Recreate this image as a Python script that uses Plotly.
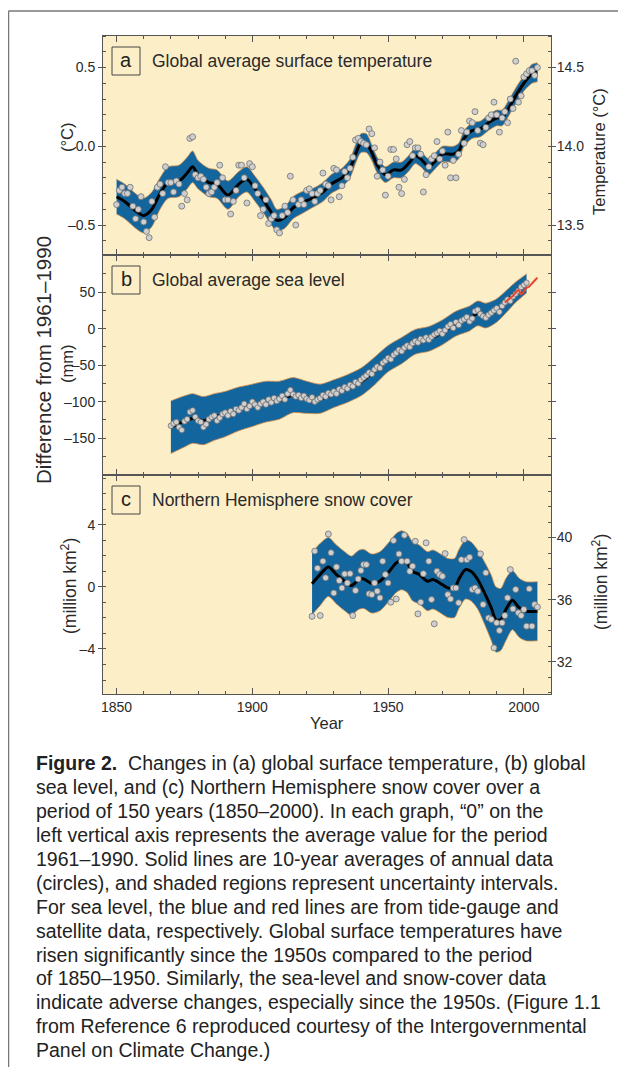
import plotly.graph_objects as go

# ---------------- data ----------------
temp_years = list(range(1850, 2006))
temp_annual = [
    -0.37, -0.28, -0.26, -0.30, -0.30, -0.26, -0.38, -0.46, -0.40, -0.32,
    -0.48, -0.54, -0.58, -0.35, -0.45, -0.26, -0.24, -0.30, -0.13, -0.23,
    -0.23, -0.29, -0.22, -0.24, -0.38, -0.30, -0.34, 0.05, 0.06, -0.18,
    -0.20, -0.19, -0.21, -0.26, -0.30, -0.29, -0.26, -0.23, -0.12, -0.20,
    -0.34, -0.34, -0.43, -0.35, -0.28, -0.12, -0.12, -0.20, -0.36, -0.11,
    -0.13, -0.25, -0.30, -0.44, -0.40, -0.34, -0.49, -0.46, -0.44, -0.53,
    -0.55, -0.44, -0.38, -0.42, -0.19, -0.34, -0.50, -0.37, -0.34, -0.37,
    -0.28, -0.27, -0.30, -0.35, -0.30, -0.28, -0.17, -0.24, -0.25, -0.34,
    -0.14, -0.15, -0.32, -0.25, -0.16, -0.20, -0.14, -0.07, 0.04, 0.05,
    0.03, 0.02, 0.01, 0.11, 0.08, -0.01, -0.19, -0.10, -0.15, -0.31,
    -0.19, -0.02, -0.02, -0.08, -0.26, -0.30, -0.21, 0.01, 0.03, -0.06,
    -0.01, -0.01, -0.05, -0.29, -0.18, -0.13, -0.08, -0.06, 0.03, -0.08,
    -0.03, -0.12, 0.09, -0.20, -0.09, -0.20, -0.05, 0.10, 0.02, 0.09,
    0.16, 0.15, 0.22, 0.10, 0.02, 0.01, 0.12, 0.18, 0.20, 0.28,
    0.20, 0.09, 0.18, 0.22, 0.15, 0.30, 0.24, 0.54, 0.28, 0.32,
    0.44, 0.46, 0.48, 0.48, 0.45, 0.50,
]
temp_smooth_years = [1850, 1853, 1857, 1860, 1863, 1866, 1869, 1873, 1876, 1878,
                     1880, 1884, 1887, 1891, 1895, 1898, 1901, 1904, 1907, 1909,
                     1912, 1915, 1918, 1922, 1926, 1929, 1933, 1936, 1938, 1940,
                     1942, 1944, 1946, 1949, 1952, 1955, 1958, 1960, 1962, 1965,
                     1967, 1970, 1974, 1976, 1978, 1981, 1984, 1987, 1990, 1992,
                     1994, 1997, 2000, 2003, 2005]
temp_smooth = [-0.32, -0.35, -0.41, -0.44, -0.40, -0.30, -0.23, -0.22, -0.17, -0.13,
               -0.18, -0.23, -0.24, -0.31, -0.24, -0.21, -0.27, -0.34, -0.42, -0.47,
               -0.45, -0.39, -0.36, -0.33, -0.29, -0.24, -0.20, -0.14, -0.05, 0.02,
               0.02, -0.04, -0.12, -0.18, -0.15, -0.15, -0.10, -0.06, -0.08, -0.13,
               -0.10, -0.05, -0.05, -0.03, 0.05, 0.10, 0.11, 0.15, 0.18, 0.18,
               0.23, 0.32, 0.40, 0.46, 0.47]
temp_halfwidth = [0.11, 0.11, 0.11, 0.11, 0.11, 0.10, 0.10, 0.10, 0.10, 0.10,
                  0.09, 0.09, 0.09, 0.09, 0.08, 0.08, 0.08, 0.08, 0.08, 0.07,
                  0.07, 0.07, 0.07, 0.06, 0.06, 0.06, 0.06, 0.06, 0.06, 0.06,
                  0.06, 0.05, 0.05, 0.05, 0.05, 0.05, 0.05, 0.05, 0.05, 0.05,
                  0.05, 0.05, 0.05, 0.05, 0.05, 0.05, 0.05, 0.05, 0.05, 0.05,
                  0.05, 0.05, 0.05, 0.06, 0.06]

sea_years = list(range(1870, 2002))
sea_annual = [
    -133, -130, -128, -135, -139, -127, -124, -114, -112, -121,
    -126, -128, -135, -131, -124, -121, -119, -126, -122, -117,
    -115, -119, -113, -117, -110, -112, -108, -103, -110, -106,
    -100, -104, -108, -103, -100, -104, -97, -101, -95, -99,
    -96, -92, -97, -89, -84, -90, -93, -91, -95, -92,
    -96, -98, -94, -100, -97, -95, -91, -93, -88, -90,
    -86, -89, -83, -85, -80, -82, -77, -79, -73, -75,
    -70, -67, -64, -60, -62, -56, -52, -54, -47, -44,
    -40, -42, -36, -33, -29, -31, -26, -23, -25, -20,
    -17, -19, -14, -16, -12, -15, -11, -8, -6, -3,
    -7, -2, 3, 6, 1, 9, 5, 11, 13, 16,
    10, 14, 24, 26, 20, 17, 15, 19, 22, 25,
    28, 23, 31, 36, 40, 38, 44, 48, 52, 57,
    60, 63,
]
sea_smooth_years = [1870, 1875, 1878, 1882, 1886, 1890, 1895, 1900, 1905, 1910,
                    1915, 1920, 1925, 1930, 1935, 1940, 1945, 1950, 1955, 1960,
                    1965, 1970, 1975, 1980, 1983, 1986, 1990, 1994, 1997, 2001]
sea_smooth = [-135, -127, -123, -126, -121, -117, -110, -105, -100, -98,
              -91, -94, -96, -89, -82, -73, -58, -41, -30, -18,
              -14, -5, 7, 14, 21, 18, 25, 39, 50, 62]
sea_halfwidth = [36, 35, 34, 33, 32, 31, 30, 29, 28, 26,
                 24, 22, 20, 19, 19, 19, 19, 18, 18, 17,
                 17, 17, 17, 17, 17, 17, 16, 15, 14, 13]
sat_years = [1993, 1994, 1995, 1996, 1997, 1998, 1999, 2000, 2001, 2002, 2003, 2004, 2005]
sat_level = [36, 39, 42, 45, 50, 53, 47, 51, 56, 58, 62, 66, 70]

snow_years = list(range(1922, 2006))
snow_annual = [
    -1.9, 2.3, 1.2, -1.85, 1.65, 0.58, 3.4, 2.2, -0.4, 1.28,
    0.4, -0.07, 0.83, 0.25, 0.85, -1.85, -0.24, 0.51, 1.05, 1.43,
    1.43, -0.45, -0.5, 0.25, -0.28, -0.71, 1.65, 0.79, 0.25, -0.99,
    2.98, -0.78, 2.12, 1.65, 3.32, 1.65, 1.0, 1.33, 2.93, -1.74,
    -0.99, 0.85, 2.83, 1.65, -0.82, -2.38, 1.0, 0.79, 0.68, 2.14,
    -0.5, -0.78, -0.07, -0.07, -1.03, 1.75, 3.04, 1.75, 1.9, -0.17,
    -0.07, -0.28, 2.12, -1.14, 0.9, -2.0, -2.1, -3.93, -2.32, -2.81,
    -2.32, -1.85, -0.71, 1.11, -1.42, -0.17, -1.67, -1.85, -1.46, -2.53,
    -0.13, -2.53, -1.14, -1.3,
]
snow_smooth_years = [1922, 1925, 1928, 1931, 1934, 1936.5, 1939, 1941, 1944, 1947,
                     1950, 1953, 1955, 1957, 1959, 1961.5, 1964.5, 1966.5, 1969, 1972,
                     1974.5, 1976, 1978.5, 1980.5, 1983, 1985.5, 1988, 1989.7, 1991.5, 1993.4,
                     1995.8, 1998.3, 2000.7, 2005]
snow_smooth = [0.2, 0.8, 1.28, 0.79, 0.36, 0.08, 0.43, 0.51, 0.21, 0.36,
               0.90, 1.54, 1.71, 1.54, 1.0, 0.79, 0.36, 0.47, 0.25, -0.07,
               -0.07, 0.47, 1.11, 1.0, 0.47, -0.39, -1.35, -2.1, -2.1, -1.46,
               -0.86, -1.35, -1.57, -1.57]
snow_halfwidth = [2.0, 2.0, 1.9, 1.9, 1.9, 1.9, 1.9, 1.9, 1.9, 1.9,
                  1.9, 1.9, 1.9, 1.9, 1.9, 1.9, 1.9, 1.9, 1.9, 1.9,
                  1.9, 1.9, 1.9, 1.9, 1.9, 2.0, 2.1, 2.1, 2.0, 2.0,
                  1.9, 1.9, 1.9, 1.9]

x_tickvals = [1850, 1900, 1950, 2000]
temp_tickvals = [-0.5, 0.0, 0.5]
temp_ticktext = ["–0.5", "0.0", "0.5"]
temp_abs_tickvals = [13.5, 14.0, 14.5]
temp_abs_ticktext = ["13.5", "14.0", "14.5"]
sea_tickvals = [-150, -100, -50, 0, 50]
sea_ticktext = ["–150", "–100", "–50", "0", "50"]
snow_tickvals = [-4, 0, 4]
snow_ticktext = ["–4", "0", "4"]
snow_abs_tickvals = [32, 36, 40]
snow_abs_ticktext = ["32", "36", "40"]
TEMP_BASE = 14.0        # 1961-1990 mean (°C) for the right axis
SNOW_BASE = 36.83       # 1961-1990 mean (million km²) for the right axis

caption_lines = [
    "<b>Figure 2.</b>  Changes in (a) global surface temperature, (b) global",
    "sea level, and (c) Northern Hemisphere snow cover over a",
    "period of 150 years (1850–2000). In each graph, “0” on the",
    "left vertical axis represents the average value for the period",
    "1961–1990. Solid lines are 10-year averages of annual data",
    "(circles), and shaded regions represent uncertainty intervals.",
    "For sea level, the blue and red lines are from tide-gauge and",
    "satellite data, respectively. Global surface temperatures have",
    "risen significantly since the 1950s compared to the period",
    "of 1850–1950. Similarly, the sea-level and snow-cover data",
    "indicate adverse changes, especially since the 1950s. (Figure 1.1",
    "from Reference 6 reproduced courtesy of the Intergovernmental",
    "Panel on Climate Change.)",
]

# ---------------- styling ----------------
OFF = 8                      # the page body has an 8px margin
W, H = 626 - OFF, 1075 - 2 * OFF
FONT = "Liberation Sans, Arial, Helvetica, sans-serif"
BG = "#FCEFC8"
BAND = "#13659E"
EDGE = "#D08A4A"
AX = "#555555"
TXT = "#2A2A2A"


def px(x):
    return (x - OFF) / W


def py(y):
    return 1 - (y - OFF) / H


X_DOM = [px(103), px(551)]
DOM_A = [py(255), py(36)]
DOM_B = [py(475), py(255)]
DOM_C = [py(694), py(475)]

fig = go.Figure()


def add_panel(xa, ya, yrs_s, smooth, hw, yrs, vals, msize):
    lower = [s - h for s, h in zip(smooth, hw)]
    upper = [s + h for s, h in zip(smooth, hw)]
    fig.add_trace(go.Scatter(x=yrs_s, y=lower, mode="lines", xaxis=xa, yaxis=ya,
                             line=dict(color=EDGE, width=0.8, shape="spline", smoothing=0.8),
                             hoverinfo="skip", showlegend=False))
    fig.add_trace(go.Scatter(x=yrs_s, y=upper, mode="lines", xaxis=xa, yaxis=ya,
                             fill="tonexty", fillcolor=BAND,
                             line=dict(color=EDGE, width=0.8, shape="spline", smoothing=0.8),
                             hoverinfo="skip", showlegend=False))
    fig.add_trace(go.Scatter(x=yrs_s, y=smooth, mode="lines", xaxis=xa, yaxis=ya,
                             line=dict(color="black", width=3, shape="spline", smoothing=0.8),
                             showlegend=False))
    fig.add_trace(go.Scatter(x=yrs, y=vals, mode="markers", xaxis=xa, yaxis=ya,
                             marker=dict(size=msize, color="#CFCFCF",
                                         line=dict(color="#707070", width=0.8)),
                             showlegend=False))


add_panel("x", "y", temp_smooth_years, temp_smooth, temp_halfwidth, temp_years, temp_annual, 6)
add_panel("x2", "y2", sea_smooth_years, sea_smooth, sea_halfwidth, sea_years, sea_annual, 5.5)
fig.add_trace(go.Scatter(x=sat_years, y=sat_level, mode="lines", xaxis="x2", yaxis="y2",
                         line=dict(color="#E8452C", width=2, shape="spline", smoothing=0.6),
                         showlegend=False))
add_panel("x3", "y3", snow_smooth_years, snow_smooth, snow_halfwidth, snow_years, snow_annual, 6)
# right-hand absolute axes (need a trace to be drawn)
fig.add_trace(go.Scatter(x=[None], y=[None], xaxis="x", yaxis="y4", showlegend=False))
fig.add_trace(go.Scatter(x=[None], y=[None], xaxis="x3", yaxis="y5", showlegend=False))

XR = [1845, 2010]
RA = [-0.69, 0.70]
RB = [-200.5, 101]
RC = [-6.9, 7.2]

tickfont = dict(family=FONT, size=14, color=TXT)


def xaxis(anchor, labels):
    return dict(domain=X_DOM, range=XR, anchor=anchor, tickmode="array", tickvals=x_tickvals,
                ticks="inside", ticklen=6, tickwidth=1, tickcolor=AX,
                minor=dict(ticks="inside", ticklen=3, tickwidth=1, tickcolor=AX,
                           tickmode="linear", tick0=1850, dtick=10, showgrid=False),
                showline=True, linecolor=AX, linewidth=1, mirror="ticks",
                showgrid=False, zeroline=False, showticklabels=labels,
                tickfont=tickfont, fixedrange=True, automargin=False)


def yaxis(dom, rng, vals, text, minor_dt, anchor, mirror=False, **kw):
    d = dict(domain=dom, range=rng, anchor=anchor, tickmode="array", tickvals=vals,
             ticktext=text, ticks="outside", ticklen=4, tickwidth=1, tickcolor=AX,
             minor=dict(ticks="inside", ticklen=3, tickwidth=1, tickcolor=AX,
                        tickmode="linear", tick0=0, dtick=minor_dt, showgrid=False),
             showline=True, linecolor=AX, linewidth=1, mirror=mirror,
             showgrid=False, zeroline=False, tickfont=tickfont, fixedrange=True,
             automargin=False)
    d.update(kw)
    return d


fig.update_layout(
    width=W, height=H, margin=dict(l=0, r=0, t=0, b=0),
    paper_bgcolor="white", plot_bgcolor=BG, showlegend=False,
    font=dict(family=FONT, color=TXT),
    xaxis=xaxis("y", False),
    xaxis2=xaxis("y2", False),
    xaxis3=xaxis("y3", True),
    yaxis=yaxis(DOM_A, RA, temp_tickvals, temp_ticktext, 0.1, "x"),
    yaxis2=yaxis(DOM_B, RB, sea_tickvals, sea_ticktext, 25, "x2", mirror="ticks"),
    yaxis3=yaxis(DOM_C, RC, snow_tickvals, snow_ticktext, 1, "x3"),
    yaxis4=yaxis(DOM_A, [RA[0] + TEMP_BASE, RA[1] + TEMP_BASE], temp_abs_tickvals,
                 temp_abs_ticktext, 0.1, "x", overlaying="y", side="right",
                 ticklabelstandoff=-2),
    yaxis5=yaxis(DOM_C, [RC[0] + SNOW_BASE, RC[1] + SNOW_BASE], snow_abs_tickvals,
                 snow_abs_ticktext, 1, "x3", overlaying="y3", side="right",
                 ticklabelstandoff=-2),
)

shapes = []
annots = []
# outer frame (open at right and bottom in the crop)
shapes.append(dict(type="line", xref="paper", yref="paper", x0=px(8.5), x1=px(8.5),
                   y0=0, y1=py(11), line=dict(color="#777777", width=1.5)))
shapes.append(dict(type="line", xref="paper", yref="paper", x0=px(8.5), x1=1,
                   y0=py(11), y1=py(11), line=dict(color="#777777", width=1.5)))

panels = [("a", "Global average surface temperature", 36),
          ("b", "Global average sea level", 255),
          ("c", "Northern Hemisphere snow cover", 475)]
for letter, title, top in panels:
    shapes.append(dict(type="rect", xref="paper", yref="paper",
                       x0=px(112), x1=px(140), y0=py(top + 39), y1=py(top + 11),
                       line=dict(color="#444444", width=1), fillcolor=BG))
    annots.append(dict(text=letter, xref="paper", yref="paper", x=px(126), y=py(top + 24),
                       xanchor="center", yanchor="middle", showarrow=False,
                       font=dict(family=FONT, size=20, color="#222222")))
    annots.append(dict(text=title, xref="paper", yref="paper", x=px(150), y=py(top + 25),
                       xanchor="left", yanchor="middle", showarrow=False,
                       font=dict(family=FONT, size=17.5, color=TXT)))

side_labels = [
    ("Difference from 1961–1990", 44, 360, 20.5),
    ("(°C)", 67, 137, 16.5),
    ("(mm)", 67, 364, 16.5),
    ("(million km<sup>2</sup>)", 69, 586, 17.5),
    ("Temperature (°C)", 599, 152, 16.5),
    ("(million km<sup>2</sup>)", 600, 582, 17.5),
]
for txt, x, y, s in side_labels:
    annots.append(dict(text=txt, xref="paper", yref="paper", x=px(x), y=py(y),
                       xanchor="center", yanchor="middle", textangle=-90, showarrow=False,
                       font=dict(family=FONT, size=s, color=TXT)))

annots.append(dict(text="Year", xref="paper", yref="paper", x=px(327), y=py(723),
                   xanchor="center", yanchor="middle", showarrow=False,
                   font=dict(family=FONT, size=16.5, color=TXT)))

for i, line in enumerate(caption_lines):
    annots.append(dict(text=line, xref="paper", yref="paper", x=px(34), y=py(763.3 + 23.9 * i),
                       xanchor="left", yanchor="middle", showarrow=False, align="left",
                       font=dict(family=FONT, size=19.5, color="#222222")))

fig.update_layout(shapes=shapes, annotations=annots)
fig.write_html("out.html")
